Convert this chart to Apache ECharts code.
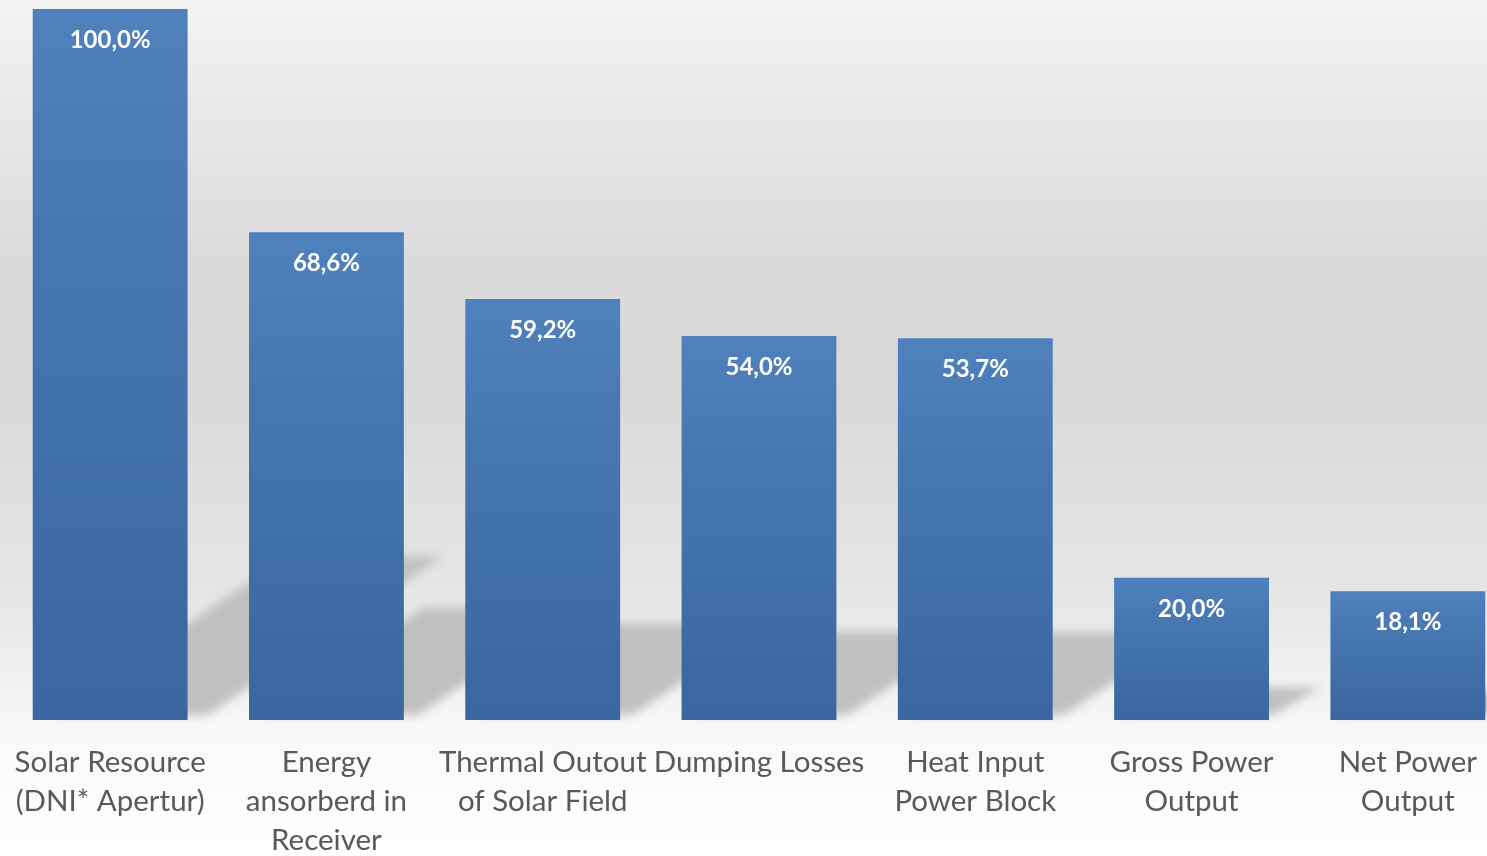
<!DOCTYPE html>
<html>
<head>
<meta charset="utf-8">
<script src="https://cdn.jsdelivr.net/npm/echarts@6/dist/echarts.min.js"></script>
<style>
  html, body { margin: 0; padding: 0; background: #fff; overflow: hidden; }
  #chart { width: 1487px; height: 856px; }
</style>
</head>
<body>
<div id="chart"></div>
<script>
// Energy flow of the plant, as a share of the solar resource (%)
const categories = [
  'Solar Resource\n(DNI* Apertur)',
  'Energy\nansorberd in\nReceiver',
  'Thermal Outout\nof Solar Field',
  'Dumping Losses',
  'Heat Input\nPower Block',
  'Gross Power\nOutput',
  'Net Power\nOutput'
];
const shares = [100.0, 68.6, 59.2, 54.0, 53.7, 20.0, 18.1];

const BAR_RATIO = 0.716;   // bar width as a fraction of the category band
const FONT = 'Lato, "Open Sans", sans-serif';
const FAR = 4000;          // shadow shape is drawn off-canvas; only its blur lands on the floor

const chart = echarts.init(document.getElementById('chart'), null, { renderer: 'canvas' });

// Floor shadow cast by each bar: a sheared, softly blurred parallelogram behind it
function renderShadow(params, api) {
  const idx = api.value(0);
  const val = api.value(1);
  const base = api.coord([idx, 0]);
  const top = api.coord([idx, val]);
  const bw = api.size([1, 0])[0] * BAR_RATIO;
  const h = base[1] - top[1];
  const shift = 0.028 * h;
  const x0 = base[0] - bw / 2 + shift - FAR;
  const x1 = base[0] + bw / 2 + shift - FAR;
  const dx = 0.33 * h;
  const dy = 0.23 * h;
  const yb = base[1] - 5;
  return {
    type: 'polygon',
    shape: {
      points: [
        [x0, yb],
        [x1, yb],
        [x1 + dx, base[1] - dy],
        [x0 + dx, base[1] - dy]
      ]
    },
    style: {
      fill: '#c0c0c0',
      shadowBlur: 10,
      shadowColor: '#c0c0c0',
      shadowOffsetX: FAR,
      shadowOffsetY: 0
    }
  };
}

chart.setOption({
  backgroundColor: {
    type: 'linear', x: 0, y: 0, x2: 0, y2: 1,
    colorStops: [
      { offset: 0.00, color: '#f3f3f3' },
      { offset: 0.30, color: '#dbdbdb' },
      { offset: 0.45, color: '#d9d9d9' },
      { offset: 0.70, color: '#e6e6e6' },
      { offset: 0.835, color: '#f5f5f5' },
      { offset: 0.845, color: '#f8f8f8' },
      { offset: 1.00, color: '#ffffff' }
    ]
  },
  animation: false,
  grid: {
    left: 2, top: 9, width: 1514, height: 711,
    containLabel: false,
    outerBoundsMode: 'none'
  },
  xAxis: {
    type: 'category',
    data: categories,
    axisLine: { show: false },
    axisTick: { show: false },
    axisLabel: {
      interval: 0,
      margin: 23,
      color: '#595959',
      fontFamily: FONT,
      fontSize: 29.5,
      lineHeight: 39,
      align: 'center'
    }
  },
  yAxis: {
    type: 'value',
    min: 0,
    max: 100,
    show: false,
    splitLine: { show: false }
  },
  series: [
    {
      type: 'custom',
      z: 1,
      silent: true,
      clip: false,
      renderItem: renderShadow,
      data: shares.map((v, i) => [i, v])
    },
    {
      type: 'bar',
      z: 2,
      data: shares,
      barWidth: (BAR_RATIO * 100) + '%',
      itemStyle: {
        color: {
          type: 'linear', x: 0, y: 0, x2: 0, y2: 1,
          colorStops: [
            { offset: 0, color: '#4f81bd' },
            { offset: 0.35, color: '#4676b0' },
            { offset: 1, color: '#3b669f' }
          ]
        }
      },
      label: {
        show: true,
        position: 'insideTop',
        distance: 19,
        color: '#ffffff',
        fontFamily: FONT,
        fontWeight: 'bold',
        fontSize: 24,
        formatter: p => p.value.toFixed(1).replace('.', ',') + '%'
      }
    }
  ]
});
</script>
</body>
</html>
